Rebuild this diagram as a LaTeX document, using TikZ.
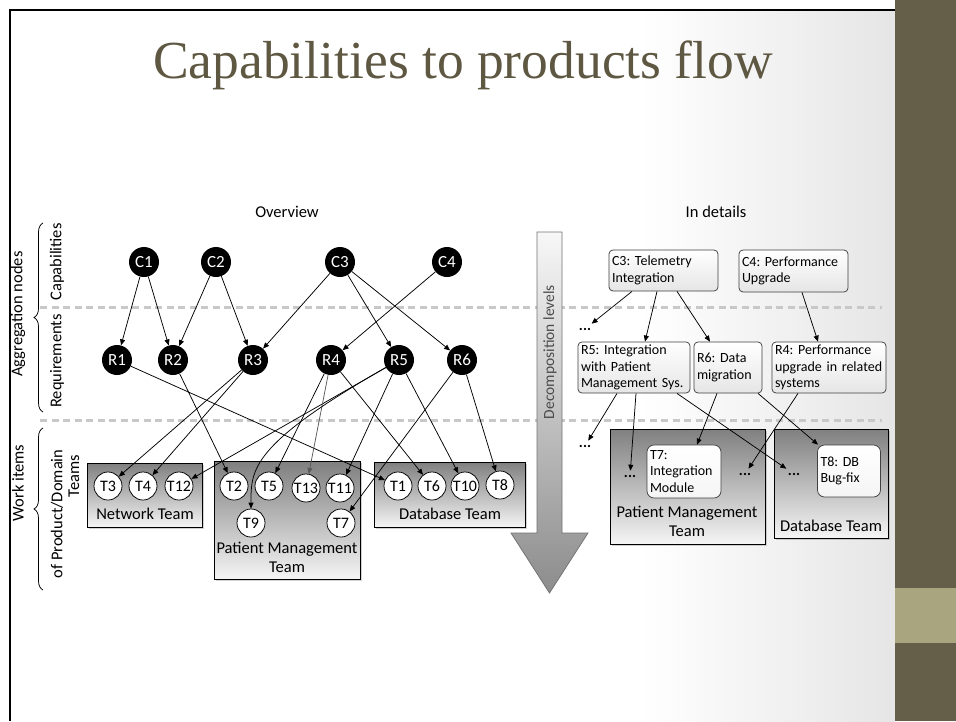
\documentclass[tikz,border=0pt]{standalone}
\usepackage{fontspec}
\setmainfont{Carlito}
\newfontfamily\titlefont{Liberation Serif}
\usetikzlibrary{arrows.meta,decorations.pathreplacing,shadows}
\definecolor{slideolive}{RGB}{101,94,72}
\definecolor{slidesand}{RGB}{169,165,127}
\definecolor{titlebrown}{RGB}{94,87,66}
\definecolor{sepgray}{RGB}{200,200,200}
\frenchspacing

\begin{document}
\begin{tikzpicture}[x=1pt,y=-1pt,
  flow/.style={-{Triangle[length=6pt,width=5pt]},line width=0.75pt},
  aggnode/.style={circle,fill=black,text=white,minimum size=30pt,inner sep=0pt,font=\fontsize{17}{17}\selectfont},
  itemnode/.style={circle,draw,fill=white,minimum size=28pt,inner sep=0pt,line width=0.75pt,font=\fontsize{16}{16}\selectfont},
  teambox/.style={draw,line width=0.75pt,top color=black!50,bottom color=black!4,drop shadow={shadow xshift=2pt,shadow yshift=-2pt,opacity=0.35}},
  detailbox/.style={draw=black!75,line width=0.75pt,rounded corners=4pt,top color=white,bottom color=black!10,align=left,inner sep=3pt,font=\fontsize{14}{16.5}\selectfont},
  taskbox/.style={detailbox,rounded corners=7pt,bottom color=black!4},
  dotnode/.style={inner sep=4pt,font=\bfseries\fontsize{15}{15}\selectfont},
  sidelabel/.style={rotate=90,font=\fontsize{16.5}{19}\selectfont},
  lbl/.style={font=\fontsize{16.5}{19}\selectfont,align=center},
  sepline/.style={sepgray,line width=3pt,dash pattern=on 7pt off 4.5pt},
  sidebrace/.style={decorate,decoration={brace,amplitude=9pt},line width=0.75pt}]
\useasboundingbox (0,0) rectangle (956,721);

% slide background
\fill[white] (0,0) rectangle (956,721);
\shade[left color=white,right color=black!10] (640,10) rectangle (895,721);
\fill[slideolive] (895,0) rectangle (956,721);
\fill[slidesand] (895,588) rectangle (956,643);
\draw[line width=2.5pt] (10,721) -- (10,10) -- (895,10);

\node[font=\titlefont\fontsize{53.5}{54}\selectfont,text=titlebrown,anchor=base] (title) at (463,78) {Capabilities to products flow};

% level separators
\draw[sepline] (40,307) -- (882,307);
\draw[sepline] (40,420) -- (882,420);

% decomposition arrow
\shade[top color=black!3,bottom color=black!45,draw=black!55,line width=0.75pt]
  (537,232) -- (562,232) -- (562,533) -- (588,533) -- (549.5,593) -- (511,533) -- (537,533) -- cycle;
\node[sidelabel,text=black!70,font=\fontsize{15.5}{18}\selectfont] (declabel) at (550,352) {Decomposition levels};

% side labels
\node[lbl] (overview) at (287,212) {Overview};
\node[lbl] (indetails) at (716,212) {In details};
\draw[sidebrace] (43,412) -- (43,223);
\draw[sidebrace] (43,590) -- (43,428);
\node[sidelabel] (agglabel) at (18,314) {Aggregation nodes};
\node[sidelabel] (caplabel) at (57,262) {Capabilities};
\node[sidelabel] (reqlabel) at (57,361) {Requirements};
\node[sidelabel] (worklabel) at (18,483) {Work items};
\node[sidelabel] (prodlabel) at (57,514) {of Product/Domain};
\node[sidelabel] (teamslabel) at (74,476) {Teams};

% overview: team boxes
\node[teambox,minimum width=115pt,minimum height=64pt] (netbox) at (144.5,495) {};
\node[teambox,minimum width=146pt,minimum height=118pt] (pmbox) at (287,520) {};
\node[teambox,minimum width=151pt,minimum height=65pt] (dbbox) at (449.5,494.5) {};
\node[lbl] (netname) at (145,514) {Network Team};
\node[lbl] (pmname) at (287,557) {Patient Management\\Team};
\node[lbl] (dbname) at (450,514) {Database Team};

% overview: capabilities and requirements
\foreach \n/\x in {C1/144,C2/216,C3/340,C4/447}
  \node[aggnode] (\n) at (\x,262) {\n};
\foreach \n/\x in {R1/117,R2/173,R3/253,R4/331,R5/399,R6/462}
  \node[aggnode] (\n) at (\x,360) {\n};

% overview: work items
\foreach \n/\x/\y in {T3/108/486,T4/143/486,T12/179/486,T2/234/486,T5/269/486,T13/306/488,T11/340/488,
    T9/251/523,T7/341/523,T1/398/486,T6/432/486,T10/465/486,T8/500/485}
  \node[itemnode] (\n) at (\x,\y) {\n};

\foreach \a/\b in {C1/R1,C1/R2,C2/R2,C2/R3,C3/R3,C3/R5,C3/R6,C4/R4,
    R1/T1,R2/T2,R3/T3,R3/T4,R4/T5,R4/T6,R5/T12,R5/T11,R5/T10,R6/T7,R6/T8}
  \draw[flow] (\a) -- (\b);
\draw[flow,black!65] (R4) -- (T13);
\draw[flow] (R5) .. controls (250,445) and (251,470) .. (T9);

% in details
\node[detailbox,text width=103pt,minimum height=41pt] (C3d) at (663.5,270.5) {C3: Telemetry\\Integration};
\node[detailbox,text width=103pt,minimum height=42pt] (C4d) at (793.5,271) {C4: Performance\\Upgrade};
\node[detailbox,text width=106pt,minimum height=51pt] (R5d) at (634,367.5) {R5: Integration\\with Patient\\Management Sys.};
\node[detailbox,text width=62pt,minimum height=51pt] (R6d) at (728,367.5) {R6: Data\\migration};
\node[detailbox,text width=108pt,minimum height=51pt] (R4d) at (829,367.5) {R4: Performance\\upgrade in related\\systems};

\node[teambox,minimum width=155pt,minimum height=115pt] (pmdet) at (687.5,486.5) {};
\node[teambox,minimum width=114pt,minimum height=109pt] (dbdet) at (831,483.5) {};
\node[lbl] (pmdetname) at (687,521) {Patient Management\\Team};
\node[lbl] (dbdetname) at (831,526) {Database Team};
\node[taskbox,text width=68pt,minimum height=53pt] (T7d) at (684,471.5) {T7:\\Integration\\Module};
\node[taskbox,text width=57pt,minimum height=52pt] (T8d) at (849,471) {T8: DB\\Bug-fix};

\node[dotnode] (dotsA) at (585,329) {...};
\node[dotnode] (dotsB) at (585,446) {...};
\node[dotnode] (dotsC) at (630,476) {...};
\node[dotnode] (dotsD) at (745,474) {...};
\node[dotnode] (dotsE) at (794,474) {...};

\draw[flow] ([xshift=-31.5pt]C3d.south) -- (dotsA);
\draw[flow] ([xshift=-6.5pt]C3d.south) -- ([xshift=11pt]R5d.north);
\draw[flow] ([xshift=13.5pt]C3d.south) -- ([xshift=-18pt]R6d.north);
\draw[flow] ([xshift=8.5pt]C4d.south) -- ([xshift=-11pt]R4d.north);
\draw[flow] ([xshift=-17pt]R5d.south) -- (dotsB);
\draw[flow] ([xshift=2pt]R5d.south) -- (dotsC);
\draw[flow] ([xshift=43pt]R5d.south) -- (dotsE);
\draw[flow] ([xshift=-11pt]R6d.south) -- ([xshift=13pt]T7d.north);
\draw[flow] ([xshift=30pt]R6d.south) -- ([xshift=-31pt]T8d.north);
\draw[flow] ([xshift=-31pt]R4d.south) -- (dotsD);
\end{tikzpicture}
\end{document}
